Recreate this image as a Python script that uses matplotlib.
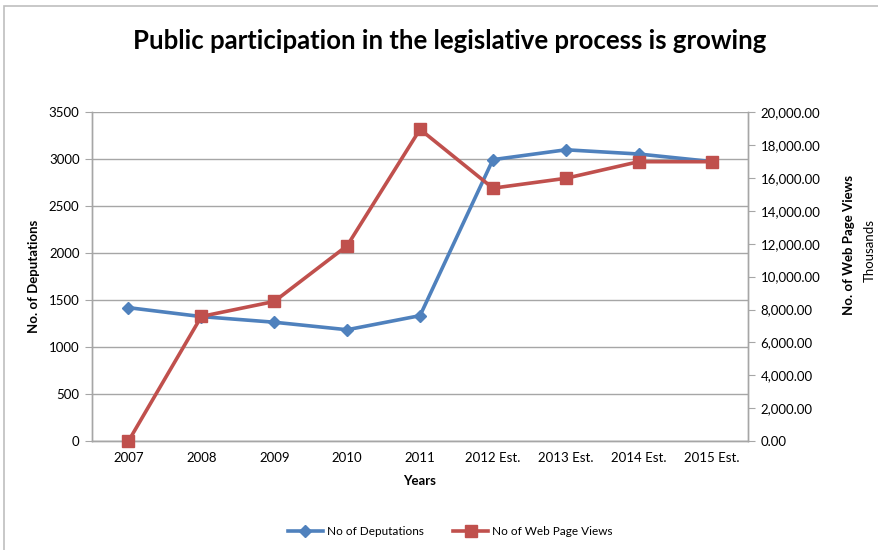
import matplotlib.pyplot as plt
from matplotlib.patches import Rectangle
from matplotlib.ticker import FuncFormatter, MultipleLocator

years = ["2007", "2008", "2009", "2010", "2011",
         "2012 Est.", "2013 Est.", "2014 Est.", "2015 Est."]
deputations = [1420, 1325, 1265, 1185, 1335, 2995, 3100, 3055, 2975]
page_views = [0, 7580, 8490, 11880, 18960, 15380, 15980, 16990, 16990]

BLUE = "#4F81BD"
RED = "#C0504D"
GRID = "#A6A6A6"
FONT = "Lato"

plt.rcParams["font.family"] = [FONT, "DejaVu Sans"]

fig = plt.figure(figsize=(8.79, 5.5), dpi=100)
ax = fig.add_axes([0.1047, 0.198, 0.7463, 0.598])
ax2 = ax.twinx()

x = list(range(len(years)))

# deputations on the left axis
ax.plot(x, deputations, color=BLUE, lw=2.6, marker="D", ms=6.5,
        label="No of Deputations", zorder=3, clip_on=False)
ax.set_ylim(0, 3500)
ax.set_xlim(-0.5, len(years) - 0.5)
ax.yaxis.set_major_locator(MultipleLocator(500))
ax.grid(axis="y", color=GRID, lw=1.0)
ax.set_axisbelow(True)
ax.set_xticks(x)
ax.set_xticklabels(years)
ax.tick_params(axis="x", length=0, labelsize=9.5, pad=8)
ax.tick_params(axis="y", length=5, color=GRID, labelsize=9.5, pad=4)

# page views on the right axis
ax2.plot(x, page_views, color=RED, lw=2.6, marker="s", ms=8,
         label="No of Web Page Views", zorder=3, clip_on=False)
ax2.set_ylim(0, 20000)
ax2.yaxis.set_major_locator(MultipleLocator(2000))
ax2.yaxis.set_major_formatter(FuncFormatter(lambda v, p: f"{v:,.2f}"))
ax2.tick_params(axis="y", length=5, color=GRID, labelsize=9.5, pad=4)

for a in (ax, ax2):
    a.spines["top"].set_visible(False)
    for s in ("left", "right", "bottom"):
        a.spines[s].set_color(GRID)
        a.spines[s].set_linewidth(1.0)

ax.set_xlabel("Years", fontsize=9.5, fontweight="bold", labelpad=8)
ax.set_ylabel("No. of Deputations", fontsize=9.5, fontweight="bold", labelpad=6)
fig.text(0.966, 0.555, "No. of Web Page Views", rotation=90, fontsize=9.5,
         fontweight="bold", ha="center", va="center")
fig.text(0.99, 0.545, "Thousands", rotation=90, fontsize=9.5,
         ha="center", va="center")

fig.suptitle("Public participation in the legislative process is growing",
             x=0.512, y=0.948, fontsize=18.5, fontweight="bold")

h1, l1 = ax.get_legend_handles_labels()
h2, l2 = ax2.get_legend_handles_labels()
fig.legend(h1 + h2, l1 + l2, loc="center", bbox_to_anchor=(0.512, 0.033),
           ncol=2, frameon=False, fontsize=8.5, handlelength=3,
           columnspacing=2.5, handletextpad=0.3)

# outer chart border
fig.patches.append(Rectangle((0.004, -0.01), 1.1, 0.999, transform=fig.transFigure,
                             fill=False, edgecolor="#BFBFBF", lw=1.2))

fig.savefig("out.png", dpi=100)
